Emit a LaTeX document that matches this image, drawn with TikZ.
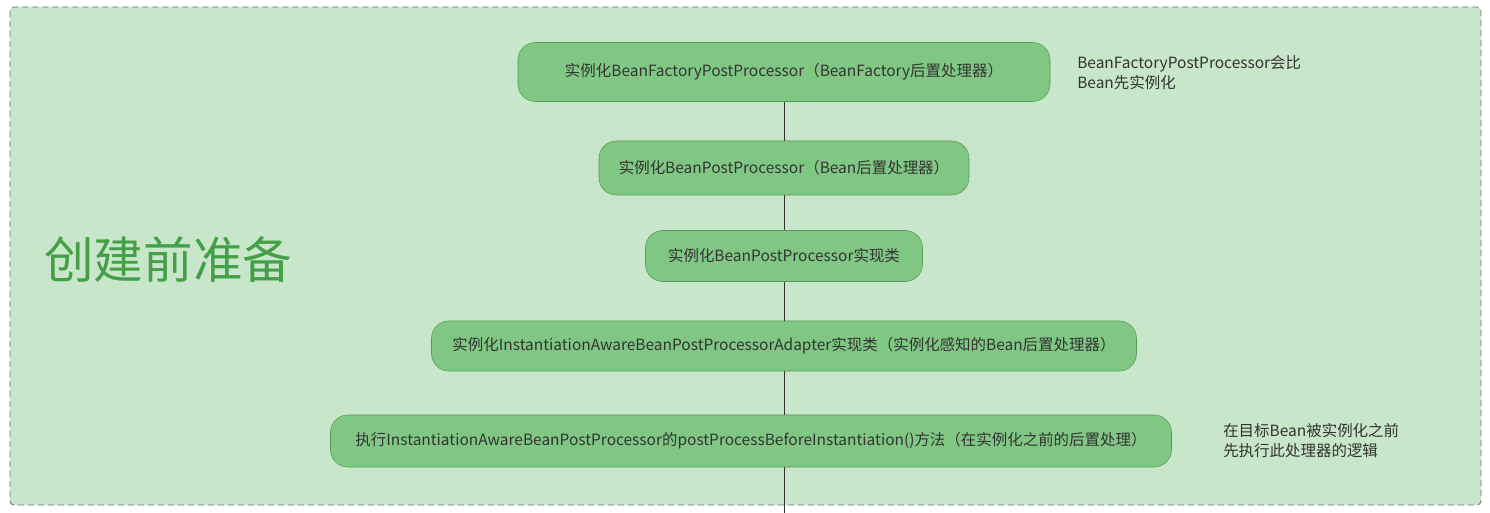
\documentclass[tikz,border=0pt]{standalone}
\usepackage{fontspec}
\setmainfont{Noto Sans CJK SC}
\definecolor{areabg}{HTML}{C8E6C9}
\definecolor{stepfill}{HTML}{81C784}
\definecolor{stepline}{HTML}{559958}
\definecolor{titlegreen}{HTML}{43A047}
\definecolor{textgray}{HTML}{333333}
\definecolor{framegray}{HTML}{707070}
\tikzset{
  stepbox/.style={draw=stepline, fill=stepfill, rounded corners=13pt, text=textgray, inner sep=0pt},
  note/.style={anchor=north west, align=left, text=textgray, inner sep=0pt},
  flow/.style={draw=textgray, line width=0.6pt},
}
\begin{document}
\begin{tikzpicture}[x=0.75pt, y=-0.75pt, font=\fontsize{11.6pt}{15pt}\selectfont, line join=round]
	\useasboundingbox (0,0) rectangle (1490,513);
	\fill[white] (0,0) rectangle (1490,513);
	% area
	\draw[framegray, fill=areabg, dash pattern=on 4.5pt off 3pt, rounded corners=3pt, line width=0.7pt]
	(10,7) rectangle (1481,505);
	\node[text=titlegreen, font=\fontsize{37.2pt}{40pt}\selectfont, anchor=west, inner sep=0pt] (title) at (44,260) {创建前准备};
	% steps
	\node[stepbox, minimum width=399pt, minimum height=44.25pt] (bfpp) at (784,72)
	{实例化BeanFactoryPostProcessor（BeanFactory后置处理器）};
	\node[stepbox, minimum width=277.5pt, minimum height=40.5pt] (bpp) at (784,168)
	{实例化BeanPostProcessor（Bean后置处理器）};
	\node[stepbox, minimum width=207.75pt, minimum height=38.25pt] (bppimpl) at (784,256)
	{实例化BeanPostProcessor实现类};
	\node[stepbox, minimum width=528.75pt, minimum height=37.5pt] (iabpp) at (784,346)
	{实例化InstantiationAwareBeanPostProcessorAdapter实现类（实例化感知的Bean后置处理器）};
	\node[stepbox, minimum width=630.75pt, minimum height=39pt] (before) at (751,441)
	{执行InstantiationAwareBeanPostProcessor的postProcessBeforeInstantiation()方法（在实例化之前的后置处理）};
	\coordinate (out) at (784,513);
	% notes
	\node[note] (note1) at (1077,55) {BeanFactoryPostProcessor会比\\Bean先实例化};
	\node[note] (note2) at (1223,423) {在目标Bean被实例化之前\\先执行此处理器的逻辑};
	% flow
	\draw[flow] (bfpp) -- (bpp);
	\draw[flow] (bpp) -- (bppimpl);
	\draw[flow] (bppimpl) -- (iabpp);
	\draw[flow] (iabpp.south) -- (iabpp.south |- before.north);
	\draw[flow] (iabpp.south |- before.south) -- (out);
\end{tikzpicture}
\end{document}
